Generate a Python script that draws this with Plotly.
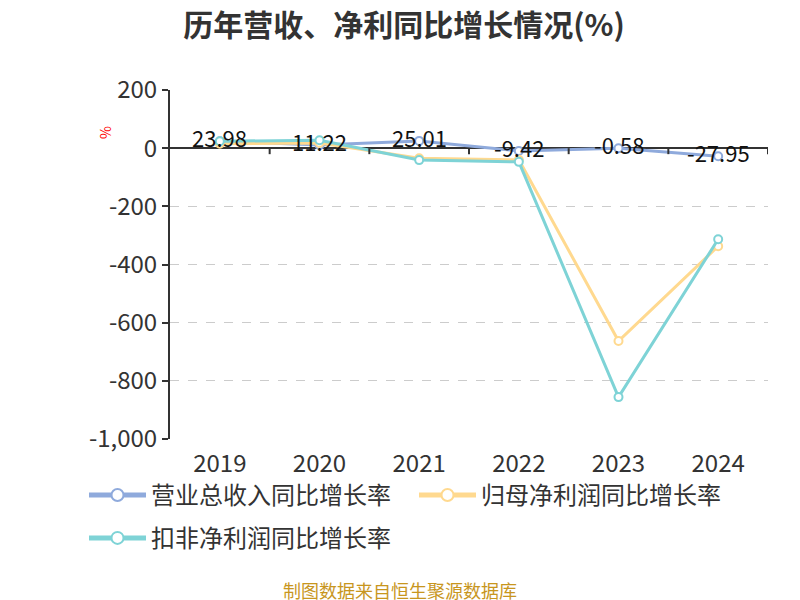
import plotly.graph_objects as go

years = ["2019", "2020", "2021", "2022", "2023", "2024"]
revenue_growth = [23.98, 11.22, 25.01, -9.42, -0.58, -27.95]
net_profit_growth = [15, 18, -35, -40, -663, -337]
deducted_profit_growth = [24, 27, -41, -47, -856, -313]
y_tick_vals = [200, 0, -200, -400, -600, -800, -1000]
y_tick_text = ["200", "0", "-200", "-400", "-600", "-800", "-1,000"]
series_names = ["营业总收入同比增长率", "归母净利润同比增长率", "扣非净利润同比增长率"]
colors = ["#8FAADC", "#FFD98F", "#7ED3D6"]
legend_ids = ["legend", "legend", "legend2"]

FONT = "Noto Sans CJK SC"

fig = go.Figure()
for name, vals, c, lg in zip(series_names, [revenue_growth, net_profit_growth, deducted_profit_growth], colors, legend_ids):
    fig.add_trace(go.Scatter(
        x=years, y=vals, name=name, mode="lines+markers", legend=lg,
        line=dict(color=c, width=3),
        marker=dict(symbol="circle", size=8, color="white", line=dict(color=c, width=2)),
    ))

for i, v in enumerate(revenue_growth):
    fig.add_annotation(x=i, y=v, text=f"{v:.2f}", showarrow=False, yshift=4,
                       font=dict(family=FONT, size=22, color="#111"))

# boundary ticks on the zero line
for i in range(len(years)):
    fig.add_shape(type="line", xref="x", yref="paper", x0=i + 0.5, x1=i + 0.5,
                  y0=1000 / 1200, y1=1000 / 1200 - 6 / 349, line=dict(color="#333", width=2))

fig.add_annotation(xref="paper", yref="paper", x=-0.1087, y=0.88, text="%", textangle=-90,
                   xanchor="center", yanchor="middle",
                   showarrow=False, font=dict(family=FONT, size=14, color="red"))
fig.add_annotation(xref="paper", yref="paper", x=0.3846, y=-0.4327, text="制图数据来自恒生聚源数据库",
                   xanchor="center", yanchor="middle",
                   showarrow=False, font=dict(family=FONT, size=18, color="#C8961E"))

legend_common = dict(orientation="h", x=-0.1438, xanchor="left", yanchor="top",
                     bgcolor="rgba(0,0,0,0)",
                     font=dict(family=FONT, size=24, color="#333"), itemsizing="constant",
                     itemwidth=57, entrywidth=258)

fig.update_layout(
    width=792, height=592,
    margin=dict(l=162, r=32, t=82, b=161),
    paper_bgcolor="white", plot_bgcolor="white",
    font=dict(family=FONT, color="#333"),
    title=dict(text="<b>历年营收、净利同比增长情况(%)</b>", x=0.5, xanchor="center",
               y=1 - 17 / 592, yref="container", yanchor="middle",
               font=dict(family=FONT, size=30, color="#333")),
    xaxis=dict(type="category", range=[-0.5, len(years) - 0.5], autorange=False,
               showline=False, ticks="", showgrid=False, zeroline=False, ticklabelstandoff=8,
               tickfont=dict(family=FONT, size=24, color="#333")),
    yaxis=dict(range=[-1000, 200], autorange=False, tickvals=y_tick_vals, ticktext=y_tick_text,
               showline=True, linecolor="#333", linewidth=2, ticks="outside", ticklen=6,
               tickcolor="#333", tickwidth=2, showgrid=True, gridcolor="#CCCCCC", griddash="dash",
               gridwidth=1, zeroline=True, zerolinecolor="#333", zerolinewidth=2,
               tickfont=dict(family=FONT, size=24, color="#333")),
    legend=dict(y=-0.097, **legend_common),
    legend2=dict(y=-0.22, **legend_common),
    showlegend=True,
)

fig.write_html("out.html")
